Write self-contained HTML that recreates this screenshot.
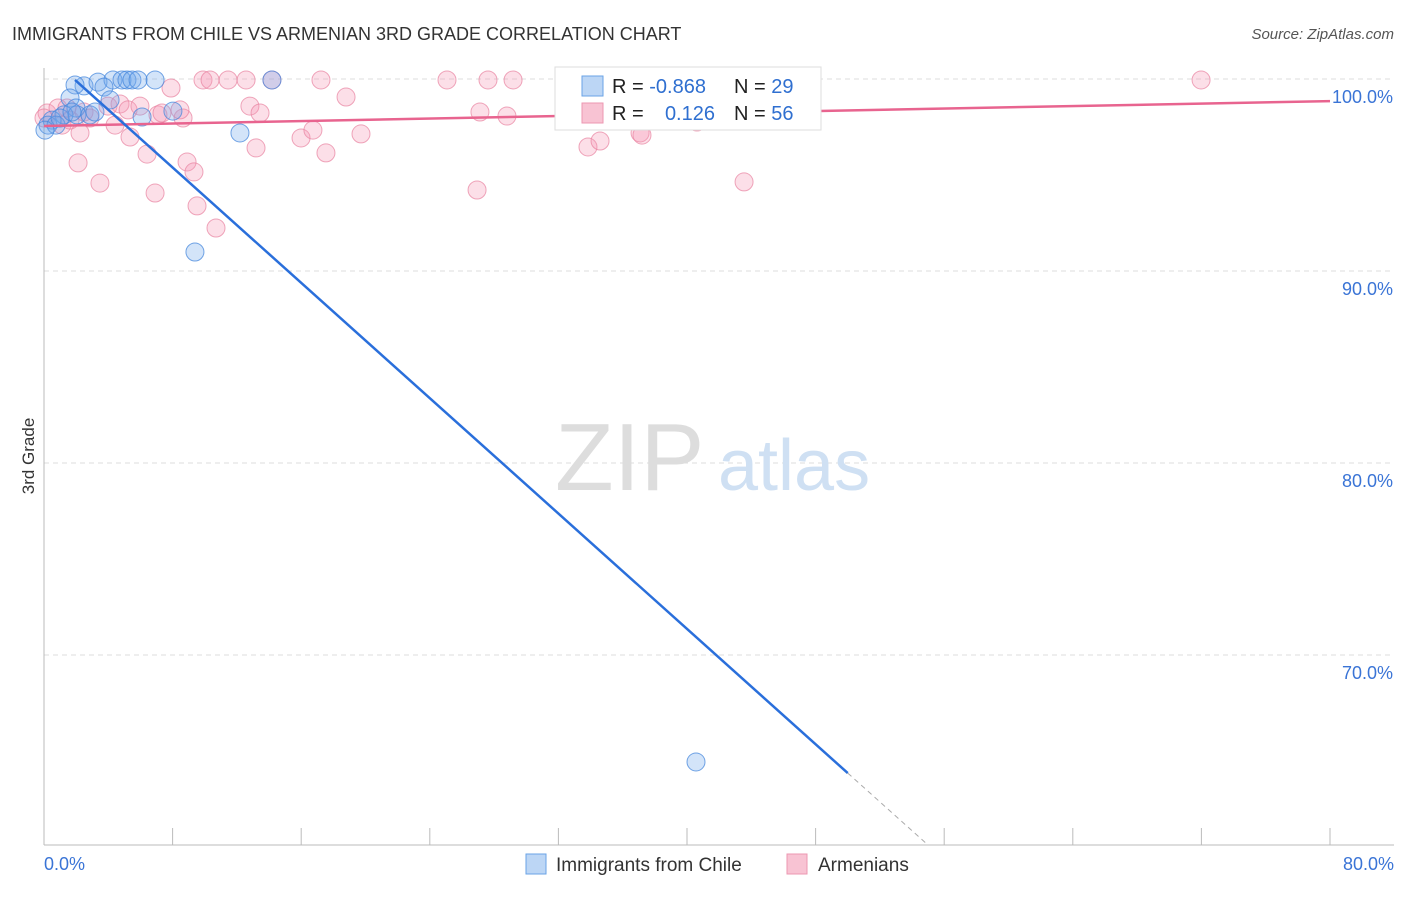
<!DOCTYPE html>
<html><head><meta charset="utf-8"><style>
body{margin:0;background:#fff;font-family:"Liberation Sans",sans-serif}
svg text{font-family:"Liberation Sans",sans-serif}
</style></head><body>
<svg id="chart" width="1406" height="892" xmlns="http://www.w3.org/2000/svg">
<text x="12" y="40" font-size="18" fill="#333">IMMIGRANTS FROM CHILE VS ARMENIAN 3RD GRADE CORRELATION CHART</text>
<text x="1394" y="39" font-size="15" fill="#555" text-anchor="end" font-style="italic">Source: ZipAtlas.com</text>
<g id="grid"></g>
<g id="watermark"><text x="555" y="490" font-size="96" fill="#ddd" font-family="Liberation Serif">ZIP</text><text x="718" y="490" font-size="72" fill="#cfe0f3">atlas</text></g>
<g id="axes"></g>
<g id="pts"></g>
<g id="lines"></g>
<text transform="translate(34,456) rotate(-90)" font-size="17" fill="#333" text-anchor="middle">3rd Grade</text>
<g>
<rect x="555" y="67" width="266" height="63" fill="#fff" stroke="#ddd"/>
<rect x="582" y="76" width="21" height="20" fill="#bcd6f5" stroke="#6aa3e6"/>
<rect x="582" y="103" width="21" height="20" fill="#f8c3d3" stroke="#ec97b1"/>
<text x="612" y="93" font-size="20" fill="#222">R = <tspan fill="#2f6fd0">-0.868</tspan></text>
<text x="734" y="93" font-size="20" fill="#222">N = <tspan fill="#2f6fd0">29</tspan></text>
<text x="612" y="120" font-size="20" fill="#222">R = </text><text x="715" y="120" font-size="20" fill="#2f6fd0" text-anchor="end">0.126</text>
<text x="734" y="120" font-size="20" fill="#222">N = <tspan fill="#2f6fd0">56</tspan></text>
</g>
<g>
<rect x="526" y="854" width="20" height="20" fill="#bcd6f5" stroke="#6aa3e6"/>
<text x="556" y="871" font-size="19" fill="#333">Immigrants from Chile</text>
<rect x="787" y="854" width="20" height="20" fill="#f8c3d3" stroke="#ec97b1"/>
<text x="818" y="871" font-size="19" fill="#333">Armenians</text>
</g>
</svg>
<script>
const yTicks=[100,90,80,70];
const yTickLabels=["100.0%","90.0%","80.0%","70.0%"];
const xTickLabels=["0.0%","80.0%"];
const chileX=[2.49,3.36,4.29,4.85,5.16,5.47,5.85,6.91,1.93,1.62,3.73,1.99,1.24,2.05,2.86,0.5,0.25,0.75,6.1,8.02,12.19,9.39,14.18,40.56,1.0,0.06,3.17,1.74,4.11];
const chileY=[99.64,99.84,99.95,99.95,99.95,99.95,99.95,99.95,99.69,99.01,99.58,98.49,98.13,98.13,98.13,97.86,97.6,97.6,98.02,98.33,97.19,90.99,99.95,64.43,97.97,97.34,98.28,98.28,98.91];
const armX=[0.19,0.87,1.12,1.62,2.49,2.24,2.12,3.48,3.98,4.42,4.73,5.23,5.35,5.97,6.41,6.91,7.09,7.34,7.9,8.65,8.9,9.33,9.52,9.89,10.33,10.7,11.45,12.57,12.81,13.19,13.44,15.99,16.73,17.23,17.54,18.79,19.72,25.07,26.94,27.12,27.62,28.8,29.18,32.85,33.84,34.59,37.08,37.2,40.62,43.55,71.98,14.18,0.0,1.43,2.86,8.46];
const armY=[98.23,98.49,97.6,97.86,98.28,97.19,95.63,94.58,98.59,97.6,98.7,98.39,96.98,98.59,96.09,94.06,98.13,98.23,99.53,97.97,95.68,95.16,93.39,99.95,99.95,92.24,99.95,99.95,98.59,96.41,98.23,96.93,97.34,99.95,96.15,99.06,97.14,99.95,94.22,98.28,99.95,98.07,99.95,99.95,96.46,96.77,97.19,97.08,97.76,94.64,99.95,99.95,97.97,98.49,97.97,98.39];
const chileTrend=[[1.93,99.95],[50.0,63.85]];
const chileTrendExt=[[50.0,63.85],[55.0,60.1]];
const armTrend=[[0,97.55],[80,98.85]];
const NS='http://www.w3.org/2000/svg';
const X=v=>44+v*16.075, Y=v=>79+(100-v)*19.2;
function mk(t,a,p){const e=document.createElementNS(NS,t);for(const k in a)e.setAttribute(k,a[k]);p.appendChild(e);return e;}
const grid=document.getElementById('grid'),axes=document.getElementById('axes');
yTicks.forEach((t,i)=>{
  const g=mk('line',{x1:44,x2:1394,y1:Y(t),y2:Y(t),stroke:'#ddd','stroke-dasharray':'5,4'},grid);
  
  
  const l=mk('text',{x:1393,y:Y(t)+24,'font-size':18,fill:'#3a74d6','text-anchor':'end'},axes);
  l.textContent=yTickLabels[i];
  
  
});
mk('line',{x1:44,x2:44,y1:68,y2:845,stroke:'#bbb'},axes);
mk('line',{x1:44,x2:1394,y1:845,y2:845,stroke:'#bbb'},axes);
for(let i=0;i<=10;i++){const t=mk('line',{x1:X(i*8),x2:X(i*8),y1:828,y2:845,stroke:'#bbb'},axes);
  
  }
[[0,'start',44],[1,'end',1394]].forEach(([i,a,x])=>{const l=mk('text',{x:x,y:870,'font-size':18,fill:'#3a74d6','text-anchor':a},axes);l.textContent=xTickLabels[i];
  
  });
const pts=document.getElementById('pts');
armX.forEach((x,i)=>{const c=mk('circle',{cx:X(x),cy:Y(armY[i]),r:9,fill:'rgba(244,150,180,0.3)',stroke:'rgba(232,130,160,0.7)'},pts);
  
  });
chileX.forEach((x,i)=>{const c=mk('circle',{cx:X(x),cy:Y(chileY[i]),r:9,fill:'rgba(110,165,235,0.3)',stroke:'rgba(70,135,220,0.75)'},pts);
  
  });
const ln=document.getElementById('lines');
let e=mk('line',{x1:X(armTrend[0][0]),y1:Y(armTrend[0][1]),x2:X(armTrend[1][0]),y2:Y(armTrend[1][1]),stroke:'#e8648f','stroke-width':2.5},ln);


e=mk('line',{x1:X(chileTrend[0][0]),y1:Y(chileTrend[0][1]),x2:X(chileTrend[1][0]),y2:Y(chileTrend[1][1]),stroke:'#2a6fdb','stroke-width':2.5},ln);


e=mk('line',{x1:X(chileTrendExt[0][0]),y1:Y(chileTrendExt[0][1]),x2:X(chileTrendExt[1][0]),y2:Y(chileTrendExt[1][1]),stroke:'#aaa','stroke-width':1,'stroke-dasharray':'5,4'},ln);


</script>
</body></html>
